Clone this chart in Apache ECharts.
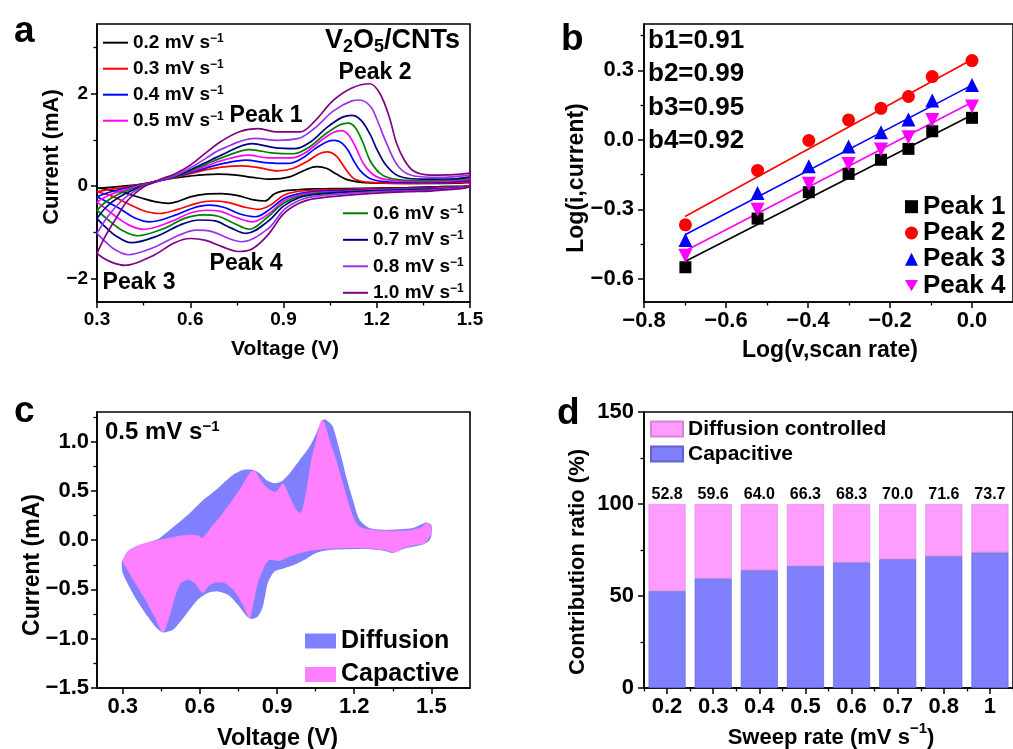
<!DOCTYPE html>
<html><head><meta charset="utf-8">
<script src="https://cdn.jsdelivr.net/npm/echarts@6/dist/echarts.min.js"></script>
<style>html,body{margin:0;padding:0;background:#fff}#c{width:1013px;height:749px}</style>
</head><body><div id="c"></div>
<script>
// ---------------- Panel a: CV curves (voltage V, current mA) ----------------
const cvNames = ['0.2 mV s-1','0.3 mV s-1','0.4 mV s-1','0.5 mV s-1','0.6 mV s-1','0.7 mV s-1','0.8 mV s-1','1.0 mV s-1'];
const cvColors = ['#000000','#ff0000','#0000ff','#ff00ff','#008000','#000080','#9933ee','#800080'];
const cv02 = [[0.3,-0.04],[0.35,-0.02],[0.4,0.01],[0.45,0.05],[0.5,0.12],[0.55,0.18],[0.6,0.22],[0.65,0.25],[0.69,0.26],[0.75,0.24],[0.8,0.19],[0.86,0.15],[0.92,0.2],[0.97,0.35],[1.007,0.42],[1.04,0.38],[1.07,0.26],[1.11,0.13],[1.18,0.07],[1.3,0.06],[1.42,0.06],[1.5,0.08],
 [1.5,0.02],[1.4,-0.01],[1.3,-0.03],[1.2,-0.04],[1.1,-0.05],[1.0,-0.06],[0.94,-0.08],[0.9,-0.1],[0.87,-0.17],[0.84,-0.32],[0.8,-0.29],[0.75,-0.2],[0.7,-0.16],[0.65,-0.17],[0.6,-0.23],[0.56,-0.33],[0.53,-0.37],[0.49,-0.34],[0.44,-0.25],[0.38,-0.13],[0.33,-0.07],[0.3,-0.04]];
const cv03 = [[0.3,-0.12],[0.35,-0.06],[0.4,-0.01],[0.45,0.05],[0.5,0.12],[0.55,0.19],[0.6,0.27],[0.65,0.35],[0.7,0.41],[0.765,0.44],[0.82,0.4],[0.88,0.33],[0.93,0.38],[0.98,0.55],[1.015,0.7],[1.04,0.74],[1.07,0.65],[1.103,0.34],[1.13,0.15],[1.18,0.08],[1.3,0.06],[1.42,0.07],[1.5,0.1],
 [1.5,0.02],[1.4,-0.02],[1.3,-0.04],[1.2,-0.05],[1.1,-0.07],[1.0,-0.09],[0.94,-0.12],[0.9,-0.2],[0.86,-0.4],[0.82,-0.5],[0.78,-0.46],[0.72,-0.35],[0.67,-0.32],[0.62,-0.37],[0.56,-0.5],[0.5,-0.59],[0.45,-0.53],[0.4,-0.38],[0.35,-0.22],[0.3,-0.12]];
const cv04 = [[0.3,-0.23],[0.34,-0.13],[0.4,-0.03],[0.45,0.04],[0.5,0.12],[0.55,0.2],[0.6,0.29],[0.65,0.39],[0.7,0.48],[0.78,0.56],[0.84,0.51],[0.915,0.49],[0.96,0.6],[1.0,0.8],[1.04,0.96],[1.066,0.99],[1.09,0.92],[1.11,0.75],[1.125,0.56],[1.146,0.34],[1.18,0.16],[1.24,0.09],[1.35,0.08],[1.45,0.1],[1.5,0.13],
 [1.5,0.02],[1.4,-0.03],[1.3,-0.05],[1.2,-0.07],[1.1,-0.09],[1.0,-0.12],[0.95,-0.16],[0.9,-0.27],[0.86,-0.48],[0.81,-0.66],[0.76,-0.6],[0.71,-0.46],[0.66,-0.41],[0.61,-0.47],[0.55,-0.63],[0.47,-0.77],[0.42,-0.68],[0.37,-0.47],[0.33,-0.33],[0.3,-0.23]];
const cv05 = [[0.3,-0.34],[0.34,-0.19],[0.4,-0.06],[0.45,0.03],[0.5,0.12],[0.55,0.21],[0.6,0.31],[0.65,0.43],[0.7,0.55],[0.787,0.67],[0.85,0.61],[0.926,0.61],[0.97,0.72],[1.02,0.98],[1.06,1.16],[1.087,1.2],[1.11,1.1],[1.135,0.8],[1.157,0.49],[1.19,0.24],[1.23,0.14],[1.35,0.1],[1.45,0.12],[1.5,0.15],
 [1.5,0.02],[1.4,-0.04],[1.3,-0.06],[1.2,-0.08],[1.1,-0.11],[1.0,-0.14],[0.95,-0.19],[0.9,-0.32],[0.86,-0.56],[0.8,-0.77],[0.75,-0.68],[0.7,-0.55],[0.65,-0.52],[0.6,-0.58],[0.54,-0.76],[0.45,-0.93],[0.4,-0.83],[0.35,-0.6],[0.3,-0.34]];
const cv06 = [[0.3,-0.52],[0.33,-0.33],[0.37,-0.17],[0.42,-0.04],[0.47,0.06],[0.52,0.15],[0.56,0.22],[0.6,0.33],[0.65,0.47],[0.7,0.61],[0.792,0.79],[0.86,0.72],[0.932,0.7],[0.98,0.83],[1.03,1.1],[1.08,1.32],[1.109,1.36],[1.13,1.27],[1.155,0.95],[1.178,0.56],[1.21,0.28],[1.25,0.16],[1.35,0.12],[1.45,0.14],[1.5,0.18],
 [1.5,0.02],[1.4,-0.05],[1.3,-0.07],[1.2,-0.09],[1.1,-0.12],[1.0,-0.16],[0.95,-0.22],[0.9,-0.37],[0.85,-0.66],[0.79,-0.93],[0.74,-0.8],[0.69,-0.65],[0.64,-0.62],[0.58,-0.7],[0.52,-0.9],[0.43,-1.07],[0.38,-0.95],[0.34,-0.75],[0.3,-0.52]];
const cv07 = [[0.3,-0.7],[0.33,-0.45],[0.37,-0.24],[0.42,-0.07],[0.47,0.05],[0.52,0.15],[0.56,0.23],[0.6,0.35],[0.65,0.51],[0.7,0.67],[0.798,0.92],[0.87,0.83],[0.937,0.81],[0.99,0.97],[1.04,1.27],[1.09,1.49],[1.12,1.53],[1.15,1.42],[1.18,1.1],[1.2,0.8],[1.23,0.45],[1.27,0.22],[1.35,0.15],[1.45,0.16],[1.5,0.2],
 [1.5,0.02],[1.4,-0.06],[1.3,-0.08],[1.2,-0.1],[1.1,-0.13],[1.0,-0.18],[0.95,-0.25],[0.9,-0.43],[0.85,-0.76],[0.78,-1.02],[0.73,-0.9],[0.68,-0.75],[0.63,-0.73],[0.57,-0.83],[0.5,-1.06],[0.41,-1.22],[0.36,-1.07],[0.33,-0.9],[0.3,-0.7]];
const cv08 = [[0.3,-1.02],[0.33,-0.7],[0.36,-0.45],[0.4,-0.2],[0.45,0.0],[0.5,0.12],[0.55,0.22],[0.6,0.39],[0.65,0.6],[0.7,0.8],[0.808,1.03],[0.88,0.99],[0.948,1.03],[1.0,1.25],[1.06,1.62],[1.12,1.84],[1.146,1.86],[1.18,1.72],[1.2,1.45],[1.232,0.92],[1.27,0.42],[1.32,0.22],[1.4,0.19],[1.5,0.24],
 [1.5,0.02],[1.4,-0.07],[1.3,-0.1],[1.2,-0.12],[1.1,-0.16],[1.0,-0.22],[0.95,-0.31],[0.9,-0.52],[0.85,-0.92],[0.765,-1.2],[0.72,-1.12],[0.67,-0.98],[0.62,-0.95],[0.56,-1.07],[0.48,-1.33],[0.4,-1.48],[0.36,-1.38],[0.33,-1.22],[0.3,-1.02]];
const cv10 = [[0.3,-1.45],[0.326,-1.09],[0.358,-0.73],[0.4,-0.3],[0.45,-0.02],[0.5,0.14],[0.55,0.26],[0.6,0.45],[0.65,0.72],[0.7,0.97],[0.76,1.18],[0.819,1.24],[0.88,1.17],[0.953,1.17],[1.0,1.4],[1.06,1.85],[1.12,2.12],[1.178,2.21],[1.21,2.0],[1.24,1.5],[1.264,0.92],[1.29,0.55],[1.32,0.32],[1.37,0.24],[1.45,0.25],[1.5,0.28],
 [1.5,0.02],[1.4,-0.09],[1.3,-0.12],[1.2,-0.15],[1.1,-0.2],[1.0,-0.27],[0.95,-0.37],[0.9,-0.6],[0.85,-1.05],[0.8,-1.35],[0.755,-1.41],[0.7,-1.3],[0.65,-1.17],[0.6,-1.13],[0.55,-1.22],[0.48,-1.5],[0.39,-1.71],[0.35,-1.65],[0.32,-1.55],[0.3,-1.45]];
const cvCurves = [cv02,cv03,cv04,cv05,cv06,cv07,cv08,cv10];
const aXTicks = [0.3,0.6,0.9,1.2,1.5], aXMinor = [0.45,0.75,1.05,1.35];
const aYTicks = [-2,0,2], aYMinor = [-1,1,3];

// ---------------- Panel b: log(i) vs log(v) ----------------
const logScan = [-0.699,-0.523,-0.398,-0.301,-0.222,-0.155,-0.097,0.0];
const peak1 = [-0.55,-0.34,-0.226,-0.147,-0.086,-0.039,0.037,0.095];
const peak2 = [-0.367,-0.132,-0.003,0.086,0.136,0.187,0.273,0.342];
const peak3 = [-0.432,-0.23,-0.114,-0.029,0.033,0.088,0.17,0.237];
const peak4 = [-0.50,-0.302,-0.19,-0.104,-0.042,0.011,0.086,0.144];
const fit1 = [[-0.70,-0.525],[0.0,0.107]];
const fit2 = [[-0.70,-0.331],[0.0,0.347]];
const fit3 = [[-0.70,-0.41],[0.0,0.236]];
const fit4 = [[-0.70,-0.48],[0.0,0.162]];
const bSlopes = ['b1=0.91','b2=0.99','b3=0.95','b4=0.92'];
const bXTicks = [-0.8,-0.6,-0.4,-0.2,0], bXMinor = [-0.7,-0.5,-0.3,-0.1];
const bYTicks = [-0.6,-0.3,0,0.3], bYMinor = [-0.45,-0.15,0.15,0.45];

// ---------------- Panel c: capacitive / diffusion at 0.5 mV/s ----------------
const cTotal = [[0.3,-0.2],[0.319,-0.115],[0.358,-0.057],[0.41,-0.014],[0.443,0.02],[0.5,0.14],[0.56,0.274],[0.61,0.4],[0.663,0.51],[0.7,0.6],[0.728,0.662],[0.767,0.712],[0.806,0.712],[0.832,0.679],[0.858,0.611],[0.89,0.577],[0.916,0.594],[0.949,0.679],[0.988,0.814],[1.026,0.948],[1.052,1.08],[1.072,1.2],[1.085,1.226],[1.1,1.2],[1.117,1.151],[1.143,0.915],[1.169,0.644],[1.195,0.408],[1.221,0.206],[1.26,0.122],[1.325,0.104],[1.428,0.122],[1.48,0.178],[1.5,0.15],
 [1.5,0.05],[1.493,0.0],[1.467,-0.045],[1.442,-0.06],[1.39,-0.09],[1.35,-0.13],[1.31,-0.105],[1.234,-0.09],[1.104,-0.1],[1.052,-0.13],[1.007,-0.2],[0.968,-0.25],[0.929,-0.284],[0.89,-0.318],[0.864,-0.436],[0.845,-0.673],[0.825,-0.774],[0.8,-0.8],[0.78,-0.767],[0.748,-0.656],[0.709,-0.554],[0.67,-0.52],[0.631,-0.537],[0.592,-0.605],[0.54,-0.774],[0.495,-0.909],[0.456,-0.936],[0.436,-0.902],[0.397,-0.774],[0.346,-0.571],[0.3,-0.334],[0.296,-0.217]];
const cCapacitive = [[0.3,-0.2],[0.319,-0.115],[0.358,-0.057],[0.41,-0.014],[0.475,0.02],[0.527,0.047],[0.566,0.054],[0.592,0.047],[0.611,0.025],[0.65,0.15],[0.689,0.274],[0.754,0.51],[0.793,0.679],[0.812,0.705],[0.845,0.577],[0.871,0.51],[0.897,0.493],[0.923,0.577],[0.949,0.442],[0.975,0.307],[0.994,0.28],[1.014,0.51],[1.033,0.814],[1.052,1.016],[1.072,1.219],[1.085,1.185],[1.104,1.016],[1.13,0.814],[1.156,0.577],[1.182,0.34],[1.208,0.172],[1.234,0.122],[1.299,0.097],[1.403,0.097],[1.454,0.122],[1.48,0.172],[1.493,0.165],[1.5,0.087],
 [1.487,0.003],[1.467,-0.037],[1.442,-0.048],[1.389,-0.081],[1.37,-0.115],[1.351,-0.125],[1.312,-0.098],[1.234,-0.081],[1.104,-0.088],[1.014,-0.115],[0.949,-0.166],[0.909,-0.21],[0.871,-0.2],[0.851,-0.267],[0.825,-0.436],[0.806,-0.673],[0.793,-0.79],[0.767,-0.656],[0.735,-0.52],[0.696,-0.436],[0.663,-0.43],[0.631,-0.47],[0.611,-0.537],[0.579,-0.436],[0.553,-0.402],[0.527,-0.436],[0.508,-0.537],[0.482,-0.774],[0.456,-0.936],[0.423,-0.774],[0.384,-0.588],[0.333,-0.369],[0.296,-0.2]];
const cXTicks = [0.3,0.6,0.9,1.2,1.5], cXMinor = [0.45,0.75,1.05,1.35];
const cYTicks = [-1.5,-1,-0.5,0,0.5,1], cYMinor = [-1.25,-0.75,-0.25,0.25,0.75,1.25];

// ---------------- Panel d: contribution ratio ----------------
const dRates = ['0.2','0.3','0.4','0.5','0.6','0.7','0.8','1'];
const capacitive = [52.8,59.6,64.0,66.3,68.3,70.0,71.6,73.7];
const diffusion = [47.2,40.4,36.0,33.7,31.7,30.0,28.4,26.3];
const dYTicks = [0,50,100,150], dYMinor = [25,75,125];

// ---------------- build ----------------
const FF = "'Liberation Sans', Arial, sans-serif";
const minus = s => s.replace('-', '\u2212');
const f1 = v => minus((Math.round(v*10)/10).toFixed(1));
const f0 = v => minus(String(Math.round(v)));

function axisPair(o){
  const base = {type:'value', gridIndex:o.grid, min:o.min, max:o.max, position:o.pos, splitLine:{show:false}};
  const main = Object.assign({}, base, {
    axisLine:{show:true,onZero:false,lineStyle:{color:'#000',width:1.6}},
    axisTick:{show:true,inside:false,length:6,lineStyle:{color:'#000',width:1.5},customValues:o.majors},
    axisLabel:{show:true,customValues:o.majors,formatter:o.fmt,color:'#000',fontSize:o.fs,fontWeight:'bold',fontFamily:FF,margin:o.margin}
  });
  const minor = Object.assign({}, base, {
    axisLine:{show:false,onZero:false},
    axisTick:{show:true,inside:false,length:3.5,lineStyle:{color:'#000',width:1.3},customValues:o.minors},
    axisLabel:{show:false}
  });
  return [main, minor];
}

const grids = [
  {left:97, top:24, width:373, height:278},
  {left:644, top:24, width:373, height:278},
  {left:97, top:412, width:373, height:276},
  {left:644, top:412, width:373, height:276}
].map(g => Object.assign(g, {show:true, borderColor:'#000', borderWidth:1.6, backgroundColor:'transparent', containLabel:false}));

const xAxes = [
  ...axisPair({grid:0,min:0.3,max:1.5,pos:'bottom',majors:aXTicks,minors:aXMinor,fmt:f1,fs:19,margin:8}),
  ...axisPair({grid:1,min:-0.8,max:0.1,pos:'bottom',majors:bXTicks,minors:bXMinor,fmt:f1,fs:22,margin:8}),
  ...axisPair({grid:2,min:0.2,max:1.65,pos:'bottom',majors:cXTicks,minors:cXMinor,fmt:f1,fs:22,margin:8}),
  {type:'category', gridIndex:3, data:dRates, position:'bottom',
   axisLine:{show:true,onZero:false,lineStyle:{color:'#000',width:1.6}},
   axisTick:{show:true,alignWithLabel:true,length:6,lineStyle:{color:'#000',width:1.5}},
   axisLabel:{interval:0,color:'#000',fontSize:22,fontWeight:'bold',fontFamily:FF,margin:8}, splitLine:{show:false}},
  {type:'category', gridIndex:3, data:dRates, position:'bottom',
   axisLine:{show:false,onZero:false}, axisTick:{show:true,length:3.5,lineStyle:{color:'#000',width:1.3}},
   axisLabel:{show:false}, splitLine:{show:false}}
];
const yAxes = [
  ...axisPair({grid:0,min:-2.5,max:3.5,pos:'left',majors:aYTicks,minors:aYMinor,fmt:f0,fs:19,margin:9}),
  ...axisPair({grid:1,min:-0.7,max:0.5,pos:'left',majors:bYTicks,minors:bYMinor,fmt:f1,fs:22,margin:10}),
  ...axisPair({grid:2,min:-1.5,max:1.3,pos:'left',majors:cYTicks,minors:cYMinor,fmt:f1,fs:22,margin:8}),
  ...axisPair({grid:3,min:0,max:150,pos:'left',majors:dYTicks,minors:dYMinor,fmt:f0,fs:22,margin:10})
];

const series = [];
cvCurves.forEach((d,i) => series.push({
  type:'line', name:cvNames[i], xAxisIndex:0, yAxisIndex:0, data:d, smooth:0.35,
  symbol:'none', lineStyle:{color:cvColors[i], width:1.7}, itemStyle:{color:cvColors[i]}, clip:true
}));
const bCols = ['#000000','#ff0000','#0000ff','#ff00ff'];
const bFits = [fit1,fit2,fit3,fit4];
const bPeaks = [peak1,peak2,peak3,peak4];
const bSyms = ['rect','circle','triangle','path://M0,0L20,0L10,17Z'];
const bSizes = [12,13,14,14];
bFits.forEach((f,i) => series.push({type:'line', name:'fit'+(i+1), xAxisIndex:2, yAxisIndex:2, data:f, symbol:'none',
  lineStyle:{color:bCols[i], width:1.6}, z:2}));
bPeaks.forEach((p,i) => series.push({type:'scatter', name:'Peak '+(i+1), xAxisIndex:2, yAxisIndex:2,
  data:p.map((v,j)=>[logScan[j], v]), symbol:bSyms[i], symbolSize:bSizes[i], itemStyle:{color:bCols[i], opacity:1}, z:3}));

function polySeries(name, pts, color){
  return {type:'custom', name:name, xAxisIndex:4, yAxisIndex:4, coordinateSystem:'cartesian2d',
    itemStyle:{color:color}, data:[[0.9,0]], clip:true, silent:true,
    renderItem:(params, api) => ({type:'polygon', shape:{points:pts.map(p=>api.coord(p)), smooth:0.25}, style:{fill:color}})};
}
series.push(polySeries('Diffusion', cTotal, '#8080ff'));
series.push(polySeries('Capactive', cCapacitive, '#ff80ff'));

series.push({type:'bar', name:'Capacitive', xAxisIndex:6, yAxisIndex:6, stack:'d', data:capacitive, barWidth:37,
  itemStyle:{color:'#8080ff', borderColor:'#6262c8', borderWidth:0.6}});
series.push({type:'bar', name:'Diffusion controlled', xAxisIndex:6, yAxisIndex:6, stack:'d', data:diffusion, barWidth:37,
  itemStyle:{color:'#ff9cff', borderColor:'#d884d8', borderWidth:0.6},
  label:{show:true, position:'top', distance:1, formatter:p => capacitive[p.dataIndex].toFixed(1),
    color:'#000', fontSize:16, fontWeight:'bold', fontFamily:FF}});

const supRich = (fs, lh) => ({
  m:{fontSize:fs, fontWeight:'bold', fontFamily:FF, color:'#000', lineHeight:lh},
  s:{fontSize:Math.round(fs*0.62), fontWeight:'bold', fontFamily:FF, color:'#000', lineHeight:Math.round(lh*0.5), verticalAlign:'top'}
});
const cvLegendBase = {orient:'vertical', padding:0, icon:'rect', itemWidth:25, itemHeight:2, itemGap:6.5, itemTextGap:5, selectedMode:false,
  formatter: n => '{m|' + n.slice(0,-2) + '}{s|\u22121}', textStyle:{rich:supRich(19,20)}};

const legends = [
  Object.assign({}, cvLegendBase, {left:103, top:32.7, data:cvNames.slice(0,4)}),
  Object.assign({}, cvLegendBase, {left:343, top:203.3, itemGap:7, data:cvNames.slice(4)}),
  {orient:'vertical', padding:0, left:905, top:193.7, itemWidth:13, itemHeight:13, itemGap:0.3, itemTextGap:10, selectedMode:false,
   data:['Peak 1','Peak 2','Peak 3','Peak 4'], textStyle:{fontSize:26, fontWeight:'bold', fontFamily:FF, color:'#000', lineHeight:26}},
  {orient:'vertical', padding:0, left:305, top:627, itemWidth:31, itemHeight:15, itemGap:5.5, itemTextGap:5, selectedMode:false, icon:'rect',
   data:['Diffusion','Capactive'], textStyle:{fontSize:25, fontWeight:'bold', fontFamily:FF, color:'#000', lineHeight:28}},
  {orient:'vertical', padding:0, left:650, top:418, itemWidth:32, itemHeight:15, itemGap:3, itemTextGap:5, selectedMode:false, icon:'rect',
   data:['Diffusion controlled','Capacitive'], textStyle:{fontSize:21, fontWeight:'bold', fontFamily:FF, color:'#000', lineHeight:22}}
];

function txt(x, y, text, size, align, rot){
  return {type:'text', x:x, y:y, rotation:rot||0, silent:true,
    style:{text:text, fontSize:size, fontWeight:'bold', fontFamily:FF, fill:'#000', align:align||'center', verticalAlign:'middle'}};
}
function richTxt(x, y, text, rich, align, rot){
  return {type:'text', x:x, y:y, rotation:rot||0, silent:true,
    style:{text:text, rich:rich, align:align||'center', verticalAlign:'middle', fill:'#000'}};
}
const richG = (fs, lh, slh) => ({
  m:{fontSize:fs, fontWeight:'bold', fontFamily:FF, fill:'#000', lineHeight:lh},
  s:{fontSize:Math.round(fs*0.62), fontWeight:'bold', fontFamily:FF, fill:'#000', lineHeight:slh||Math.round(lh*0.5), verticalAlign:'top'},
  d:{fontSize:Math.round(fs*0.68), fontWeight:'bold', fontFamily:FF, fill:'#000', lineHeight:Math.round(lh*0.62), verticalAlign:'bottom'}
});
const R = Math.PI/2;

const graphics = [
  txt(14, 32, 'a', 37, 'left'), txt(561, 40, 'b', 37, 'left'), txt(14, 412, 'c', 37, 'left'), txt(557, 414, 'd', 37, 'left'),
  // panel a
  richTxt(325, 41, '{m|V}{d|2}{m|O}{d|5}{m|/CNTs}', richG(27,30), 'left'),
  txt(375, 72.5, 'Peak 2', 23), txt(266, 115.5, 'Peak 1', 23), txt(246, 264, 'Peak 4', 23), txt(139, 282.5, 'Peak 3', 23),
  txt(285, 349, 'Voltage (V)', 21),
  txt(52, 157, 'Current (mA)', 22, 'center', R),
  // panel b
  ...bSlopes.map((s,i) => txt(648, [41,74,107.5,141][i], s, 26, 'left')),
  txt(830, 350.5, 'Log(v,scan rate)', 23),
  txt(577, 178, 'Log(i,current)', 23, 'center', R),
  // panel c
  richTxt(105, 432, '{m|0.5 mV s}{s|\u22121}', richG(24,26), 'left'),
  txt(277.5, 739, 'Voltage (V)', 23.5),
  txt(32.5, 565, 'Current (mA)', 23, 'center', R),
  // panel d
  richTxt(831, 738, '{m|Sweep rate (mV s}{s|\u22121}{m|)}', {
    m:{fontSize:22, fontWeight:'bold', fontFamily:FF, fill:'#000', lineHeight:34},
    s:{fontSize:15, fontWeight:'bold', fontFamily:FF, fill:'#000', lineHeight:11, verticalAlign:'top'}}, 'center'),
  txt(577.5, 562, 'Contribution ratio (%)', 22, 'center', R)
];

const chart = echarts.init(document.getElementById('c'), null, {renderer:'canvas'});
chart.setOption({
  animation:false,
  backgroundColor:'#fff',
  textStyle:{fontFamily:FF},
  grid:grids, xAxis:xAxes, yAxis:yAxes, legend:legends, series:series, graphic:graphics
});
</script></body></html>
